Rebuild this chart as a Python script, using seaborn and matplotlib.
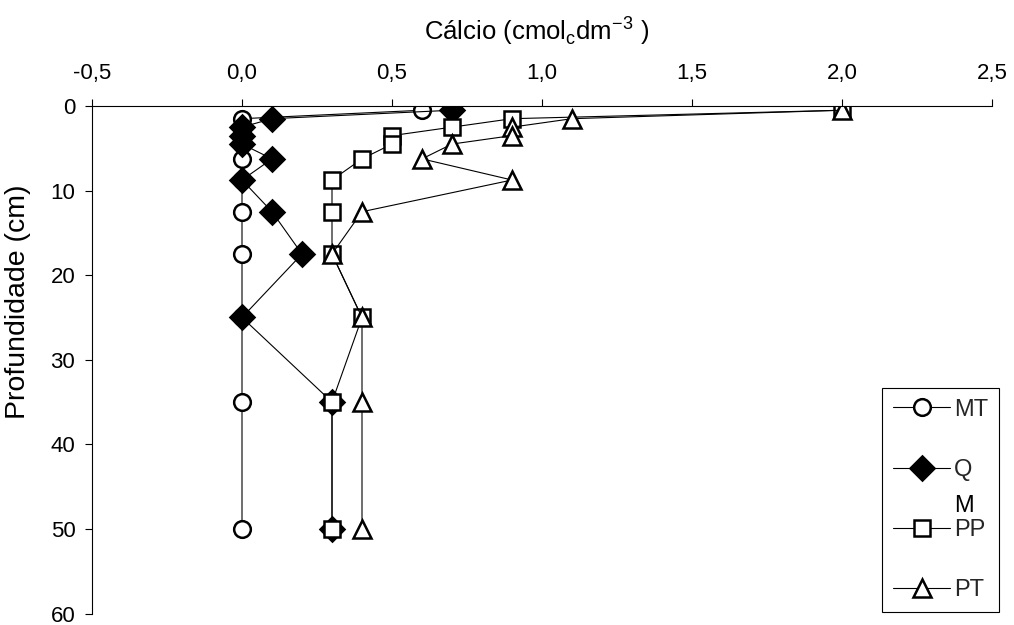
import numpy as np
import pandas as pd
import matplotlib
matplotlib.use("Agg")
import matplotlib.pyplot as plt
import seaborn as sns

# Depth midpoints (cm) of each sampled soil layer
depths = [0.5, 1.5, 2.5, 3.5, 4.5, 6.25, 8.75, 12.5, 17.5, 25, 35, 50]

# Exchangeable calcium (cmolc dm-3) for each treatment
mt = [0.6, 0.0, 0.0, 0.0, 0.0, 0.0, 0.0, 0.0, 0.0, 0.0, 0.0, 0.0]
qm = [0.7, 0.1, 0.0, 0.0, 0.0, 0.1, 0.0, 0.1, 0.2, 0.0, 0.3, 0.3]
pp = [2.0, 0.9, 0.7, 0.5, 0.5, 0.4, 0.3, 0.3, 0.3, 0.4, 0.3, 0.3]
pt = [2.0, 1.1, 0.9, 0.9, 0.7, 0.6, 0.9, 0.4, 0.3, 0.4, 0.4, 0.4]

series_names = ["MT", "QM", "PP", "PT"]
x_ticks = [-0.5, 0.0, 0.5, 1.0, 1.5, 2.0, 2.5]
y_ticks = [0, 10, 20, 30, 40, 50, 60]

sns.set_theme(style="white")
plt.rcParams["font.family"] = ["Liberation Sans", "DejaVu Sans"]
plt.rcParams["mathtext.fontset"] = "custom"
plt.rcParams["mathtext.rm"] = "Liberation Sans"

W, H = 1014, 625
fig = plt.figure(figsize=(W / 100, H / 100), dpi=100)
ax = fig.add_axes([92 / W, 1 - 613.5 / H, 900 / W, 507.5 / H])

styles = {
    "MT": dict(marker="o", markersize=12, markerfacecolor="white"),
    "QM": dict(marker="D", markersize=12.5, markerfacecolor="black"),
    "PP": dict(marker="s", markersize=11.5, markerfacecolor="white"),
    "PT": dict(marker="^", markersize=13, markerfacecolor="white"),
}
values = {"MT": mt, "QM": qm, "PP": pp, "PT": pt}

for name in series_names:
    df = pd.DataFrame({"calcio": values[name], "prof": depths})
    sns.lineplot(
        data=df, x="calcio", y="prof", ax=ax, sort=False, estimator=None,
        color="black", linewidth=0.8, markeredgecolor="black",
        markeredgewidth=1.8, label=name, legend=False, **styles[name],
    )

ax.set_xlim(-0.5, 2.5)
ax.set_ylim(60, 0)
ax.set_xticks(x_ticks)
ax.set_xticklabels([f"{v:.1f}".replace(".", ",") for v in x_ticks])
ax.set_yticks(y_ticks)
ax.set_yticklabels([str(v) for v in y_ticks])

ax.xaxis.tick_top()
ax.xaxis.set_label_position("top")
ax.tick_params(axis="x", top=True, bottom=False, direction="out", length=5,
               width=0.8, color="black", labelsize=16, pad=11, labelcolor="black")
ax.tick_params(axis="y", left=True, direction="out", length=5, width=0.8,
               color="black", labelsize=16, pad=7, labelcolor="black")

for side in ["right", "bottom"]:
    ax.spines[side].set_visible(False)
for side in ["top", "left"]:
    ax.spines[side].set_color("black")
    ax.spines[side].set_linewidth(0.8)

ax.set_xlabel(r"Cálcio (cmol$_\mathregular{c}$dm$^\mathregular{-3}$ )", fontsize=18.5,
              color="black")
ax.set_ylabel("Profundidade (cm)", fontsize=20.5, color="black")
ax.xaxis.set_label_coords(0.494, 1.13)
ax.yaxis.set_label_coords(-0.068, 0.615)

handles = ax.get_lines()
leg = ax.legend(
    handles, ["MT", "Q", "PP", "PT"],
    loc="upper left", bbox_to_anchor=(882 / W, 1 - 388 / H),
    bbox_transform=fig.transFigure, frameon=True, fancybox=False,
    edgecolor="black", framealpha=1, fontsize=17, handlelength=2.45,
    handletextpad=0.15, labelspacing=1.62, borderpad=0.45, borderaxespad=0,
)
leg.get_frame().set_linewidth(0.8)

# Second line of the wrapped "QM" label, placed under its first line
fig.canvas.draw()
qbox = leg.get_texts()[1].get_window_extent()
qcenter = 0.5 * (qbox.y0 + qbox.y1)
fig.text(qbox.x0 / W, (qcenter - 36) / H, "M", fontsize=17, color="black",
         ha="left", va="center")

fig.savefig("out.png", dpi=100)
